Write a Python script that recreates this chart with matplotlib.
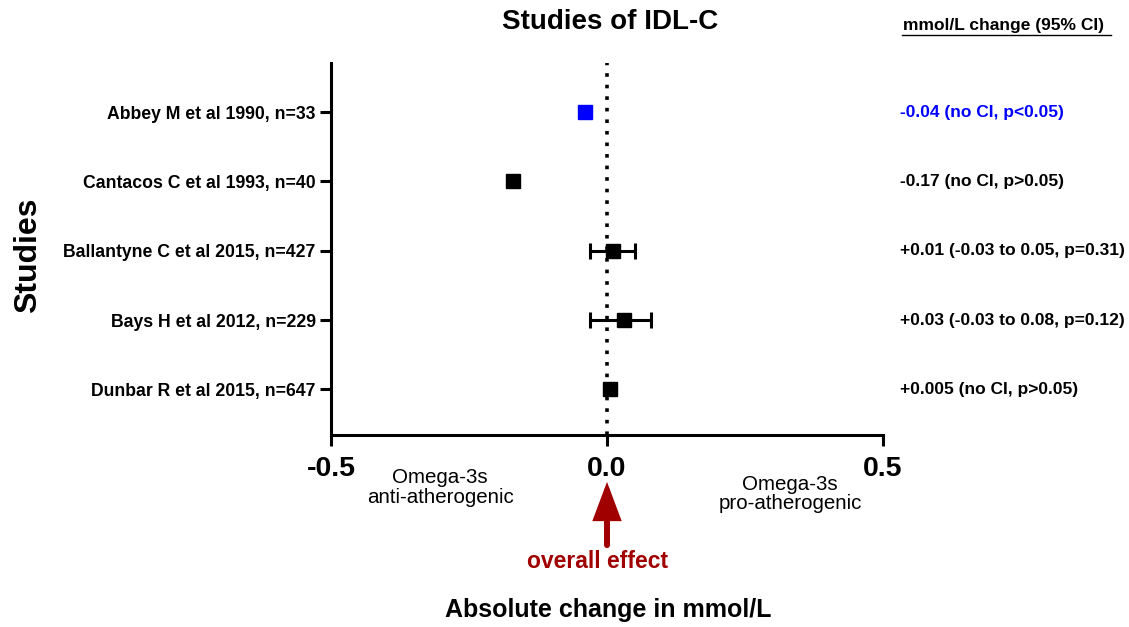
import matplotlib.pyplot as plt
import numpy as np

plt.rcParams['font.family'] = ['Liberation Sans', 'DejaVu Sans']

studies = ['Abbey M et al 1990, n=33',
           'Cantacos C et al 1993, n=40',
           'Ballantyne C et al 2015, n=427',
           'Bays H et al 2012, n=229',
           'Dunbar R et al 2015, n=647']
change = [-0.04, -0.17, 0.01, 0.03, 0.005]
ci_low = [np.nan, np.nan, -0.03, -0.03, np.nan]
ci_high = [np.nan, np.nan, 0.05, 0.08, np.nan]
summary = ['-0.04 (no CI, p<0.05)',
           '-0.17 (no CI, p>0.05)',
           '+0.01 (-0.03 to 0.05, p=0.31)',
           '+0.03 (-0.03 to 0.08, p=0.12)',
           '+0.005 (no CI, p>0.05)']
colors = ['#0000ff', 'black', 'black', 'black', 'black']

fig = plt.figure(figsize=(11.29, 6.27), dpi=100)
ax = fig.add_axes([0.2932, 0.3062, 0.4889, 0.5933])

ypos = np.arange(len(studies))[::-1] + 1

ax.axvline(0, color='black', ls=(0, (1, 2.2)), lw=2.6, zorder=1)

for y, x, lo, hi, c in zip(ypos, change, ci_low, ci_high, colors):
    if not np.isnan(lo):
        ax.errorbar(x, y, xerr=[[x - lo], [hi - x]], fmt='none',
                    ecolor=c, elinewidth=2.2, capsize=5.5, capthick=2.2, zorder=2)
    ax.plot(x, y, marker='s', ms=10.5, color=c, ls='none', zorder=3)

ax.set_xlim(-0.5, 0.5)
ax.set_ylim(0.34, 5.71)
ax.set_xticks([-0.5, 0.0, 0.5])
ax.set_xticklabels(['-0.5', '0.0', '0.5'], fontsize=20.5, fontweight='bold')
ax.set_yticks(ypos)
ax.set_yticklabels(studies, fontsize=12.7, fontweight='bold')
ax.tick_params(axis='both', width=2.2, length=8, direction='out')
ax.tick_params(axis='x', pad=7)
ax.tick_params(axis='y', pad=3)
for s in ['top', 'right']:
    ax.spines[s].set_visible(False)
for s in ['left', 'bottom']:
    ax.spines[s].set_linewidth(2.2)

fig.text(0.54, 0.965, 'Studies of IDL-C', fontsize=20, fontweight='bold',
         ha='center', va='center')
fig.text(0.539, 0.027, 'Absolute change in mmol/L', fontsize=18, fontweight='bold',
         ha='center', va='center')
fig.text(0.025, 0.593, 'Studies', rotation=90, fontsize=23, fontweight='bold',
         ha='center', va='center')

# right-hand column of estimates
trans = ax.get_yaxis_transform()
for y, txt, c in zip(ypos, summary, colors):
    ax.text(1.03, y, txt, transform=trans, fontsize=12.5, fontweight='bold',
            color=c, ha='left', va='center', clip_on=False)
fig.text(0.8, 0.96, 'mmol/L change (95% CI)', fontsize=12.5,
         fontweight='bold', ha='left', va='center')
fig.lines.append(plt.Line2D([0.799, 0.984], [0.944, 0.944], transform=fig.transFigure,
                            color='black', lw=1))

# direction hints below the axis
fig.text(0.39, 0.223, 'Omega-3s\nanti-atherogenic', fontsize=14.8, ha='center',
         va='center', linespacing=1.05)
fig.text(0.70, 0.212, 'Omega-3s\npro-atherogenic', fontsize=14.8, ha='center',
         va='center', linespacing=1.05)

ax.annotate('', xy=(0, -0.126), xycoords=('data', 'axes fraction'),
            xytext=(0, -0.296), textcoords=('data', 'axes fraction'),
            arrowprops=dict(arrowstyle='-|>,head_width=0.75,head_length=2.0',
                            color='#a00000', lw=4.3, shrinkA=0, shrinkB=0,
                            joinstyle='miter'))
fig.text(0.529, 0.105, 'overall effect', fontsize=16.5, fontweight='bold',
         color='#a00000', ha='center', va='center')

fig.savefig('out.png', dpi=100)
